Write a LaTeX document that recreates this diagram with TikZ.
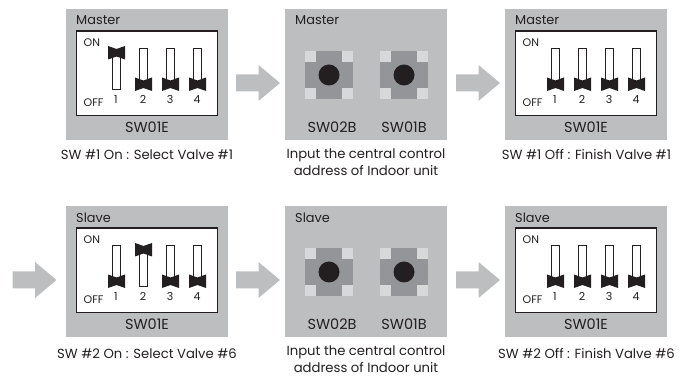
\documentclass[tikz,border=0pt]{standalone}
\usepackage{fontspec}
\setmainfont{Poppins}
\definecolor{panelgray}{HTML}{BDBEC0}
\definecolor{arrowgray}{HTML}{BDBEC0}
\definecolor{btngray}{HTML}{939598}
\definecolor{cornergray}{HTML}{D7D8DA}
\definecolor{inkblack}{HTML}{231F20}
\tikzset{
 x=1pt,y=-1pt,
 panel/.style={fill=panelgray,draw=none},
 swbox/.style={fill=white,draw=inkblack,line width=1.5pt},
 slot/.style={fill=white,draw=inkblack,line width=.8pt},
 knob/.style={fill=inkblack,draw=none},
 flowarrow/.style={fill=arrowgray,draw=none},
 lbl/.style={font=\fontsize{12.9}{14}\selectfont,text=inkblack,inner sep=0pt},
 idtxt/.style={font=\fontsize{14.5}{16}\selectfont,text=inkblack,inner sep=0pt},
 smalltxt/.style={font=\fontsize{11}{12}\selectfont,text=inkblack,inner sep=0pt},
 captxt/.style={font=\fontsize{13.2}{17}\selectfont,text=inkblack,inner sep=0pt,align=center},
}
% #1 x, #2 y of slot top, #3 1=on
\newcommand{\dipsw}[3]{%
 \ifnum#3=1
  \draw[slot] (#1-4,#2+3) rectangle (#1+4,#2+41);
  \fill[knob] (#1-8.5,#2-2) -- (#1,#2+1) -- (#1+8.5,#2-2) -- (#1+8.5,#2+11.5) -- (#1,#2+8.5) -- (#1-8.5,#2+11.5) -- cycle;
 \else
  \draw[slot] (#1-4,#2) rectangle (#1+4,#2+38);
  \fill[knob] (#1-8.5,#2+29.5) -- (#1,#2+32.5) -- (#1+8.5,#2+29.5) -- (#1+8.5,#2+43) -- (#1,#2+40) -- (#1-8.5,#2+43) -- cycle;
 \fi}
% #1 left x, #2 top y, #3 title, #4 #5 #6 #7 states, #8 id
\newcommand{\dippanel}[8]{%
 \fill[panel] (#1,#2) rectangle (#1+162,#2+131);
 \draw[swbox] (#1+10.5,#2+22) rectangle (#1+151.5,#2+106.5);
 \node[lbl,anchor=west] (t#8) at (#1+10,#2+11.5) {#3};
 \node[smalltxt,anchor=west] (on#8) at (#1+17.5,#2+34) {ON};
 \node[smalltxt,anchor=west] (off#8) at (#1+17.5,#2+94) {OFF};
 \dipsw{#1+50.5}{#2+39}{#4}\dipsw{#1+77.5}{#2+39}{#5}\dipsw{#1+104.5}{#2+39}{#6}\dipsw{#1+131.5}{#2+39}{#7}
 \node[smalltxt] (da#8) at (#1+50,#2+90.5) {1};
 \node[smalltxt] (db#8) at (#1+77,#2+90.5) {2};
 \node[smalltxt] (dc#8) at (#1+104,#2+90.5) {3};
 \node[smalltxt] (dd#8) at (#1+131,#2+90.5) {4};
 \node[idtxt] (id#8) at (#1+81,#2+118) {SW01E};}
\newcommand{\pushbtn}[2]{%
 \fill[btngray] (#1-24,#2-24) rectangle (#1+24,#2+24);
 \fill[cornergray] (#1-24,#2-24) rectangle +(11,11);
 \fill[cornergray] (#1+13,#2-24) rectangle +(11,11);
 \fill[cornergray] (#1-24,#2+13) rectangle +(11,11);
 \fill[cornergray] (#1+13,#2+13) rectangle +(11,11);
 \fill[inkblack] (#1,#2) circle (10.5);}
\newcommand{\btnpanel}[4]{%
 \fill[panel] (#1,#2) rectangle (#1+162,#2+131);
 \node[lbl,anchor=west] (t#4) at (#1+10,#2+11.5) {#3};
 \pushbtn{#1+44}{#2+66}\pushbtn{#1+119}{#2+66}
 \node[idtxt] (ba#4) at (#1+47,#2+118) {SW02B};
 \node[idtxt] (bb#4) at (#1+119,#2+118) {SW01B};}
\newcommand{\blockarrow}[2]{%
 \fill[flowarrow] (#1,#2-8.5) -- (#1+22.5,#2-8.5) -- (#1+22.5,#2-18) -- (#1+44,#2) -- (#1+22.5,#2+18) -- (#1+22.5,#2+8.5) -- (#1,#2+8.5) -- cycle;}
\begin{document}
\begin{tikzpicture}
\useasboundingbox (0,0) rectangle (694,379);
\dippanel{66}{9}{Master}{1}{0}{0}{0}{a}
\btnpanel{285}{9}{Master}{b}
\dippanel{505}{9}{Master}{0}{0}{0}{0}{c}
\dippanel{66}{206}{Slave}{0}{1}{0}{0}{d}
\btnpanel{285}{206}{Slave}{e}
\dippanel{505}{206}{Slave}{0}{0}{0}{0}{f}
\blockarrow{236}{83}
\blockarrow{456}{83}
\blockarrow{12.5}{280}
\blockarrow{236}{280}
\blockarrow{456}{280}
\node[captxt] (ca) at (147,155) {SW \#1 On : Select Valve \#1};
\node[captxt,anchor=north] (cb) at (366,149) {Input the central control\\address of Indoor unit};
\node[captxt] (cc) at (586.5,155) {SW \#1 Off : Finish Valve \#1};
\node[captxt] (cd) at (147,354) {SW \#2 On : Select Valve \#6};
\node[captxt,anchor=north] (ce) at (366,346) {Input the central control\\address of Indoor unit};
\node[captxt] (cf) at (586.5,354) {SW \#2 Off : Finish Valve \#6};
\end{tikzpicture}
\end{document}
